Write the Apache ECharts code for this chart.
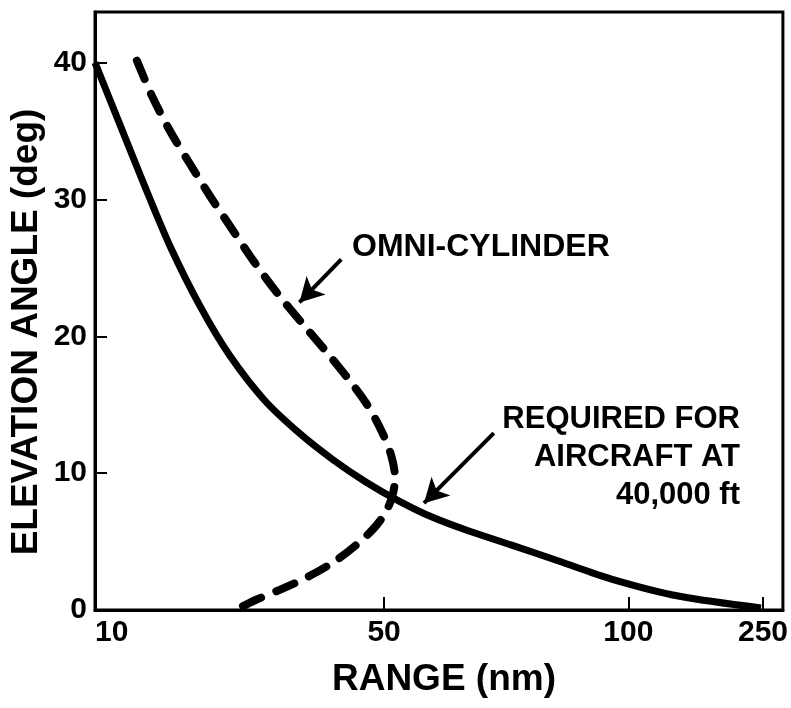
<!DOCTYPE html>
<html>
<head>
<meta charset="utf-8">
<script src="https://cdn.jsdelivr.net/npm/echarts@6/dist/echarts.min.js"></script>
<style>
html,body{margin:0;padding:0;background:#fff;}
#chart{width:791px;height:708px;}
</style>
</head>
<body>
<div id="chart"></div>
<script>
// ---- data (range in nm, elevation angle in deg) ----
const xTickValues = [10, 50, 100, 250];
const yTickValues = [0, 10, 20, 30, 40];

const requiredRange = [10, 13.45, 16.9, 20.34, 24.48, 28.62, 33.45, 38.28, 42.83, 47.52, 53.06, 59.8, 67.35, 76.12, 85.71, 96.53, 155.6, 247.8];
const requiredElev  = [40.0, 35.47, 30.95, 26.64, 22.26, 18.61, 15.33, 12.92, 11.02, 9.34, 7.96, 6.79, 5.77, 4.74, 3.58, 2.26, 1.02, 0.15];

const omniRange = [15.79, 17.86, 20.34, 23.1, 25.86, 28.9, 32.07, 35.24, 38.55, 41.72, 44.76, 47.52, 49.59, 51.43, 52.24, 51.63, 50.2, 48.62, 46.28, 43.24, 39.66, 35.79, 32.21, 30.0];
const omniElev  = [40.15, 37.59, 35.04, 32.63, 30.29, 27.88, 25.4, 23.14, 21.02, 19.05, 17.08, 15.11, 13.14, 11.31, 9.64, 8.25, 7.08, 5.99, 4.82, 3.58, 2.48, 1.53, 0.73, 0.15];

// ---- nonuniform range scale: axis units at each labelled range tick ----
const scaleBreaks = [0, 290, 535, 670];
const axisMax = 690;
const yMax = 43.7;

function toAxis(nm) {
  for (let i = 0; i < xTickValues.length - 1; i++) {
    const a = xTickValues[i], b = xTickValues[i + 1];
    if (nm <= b || i === xTickValues.length - 2) {
      return scaleBreaks[i] + (nm - a) * (scaleBreaks[i + 1] - scaleBreaks[i]) / (b - a);
    }
  }
}
function labelFor(u) {
  for (let i = 0; i < scaleBreaks.length; i++) {
    if (Math.abs(scaleBreaks[i] - u) < 0.5) return String(xTickValues[i]);
  }
  return '';
}

const requiredData = requiredRange.map((r, i) => [toAxis(r), requiredElev[i]]);
const omniData = omniRange.map((r, i) => [toAxis(r), omniElev[i]]);

const FONT = '"Liberation Sans", Arial, Helvetica, sans-serif';

const chart = echarts.init(document.getElementById('chart'), null, {renderer: 'canvas'});
chart.setOption({
  animation: false,
  backgroundColor: '#fff',
  grid: {
    left: 95, right: 6, top: 12, bottom: 98,
    show: true, borderColor: '#000', borderWidth: 3, backgroundColor: 'transparent'
  },
  xAxis: {
    type: 'value', min: 0, max: axisMax,
    name: 'RANGE (nm)', nameLocation: 'middle', nameGap: 51,
    nameTextStyle: {fontFamily: FONT, fontWeight: 'bold', fontSize: 37, color: '#000', padding: [0, 0, 0, 10]},
    axisLine: {show: true, lineStyle: {color: '#000', width: 3}},
    axisTick: {show: true, inside: true, length: 13, lineStyle: {color: '#000', width: 2},
      customValues: xTickValues.slice(1).map(toAxis)},
    axisLabel: {
      customValues: xTickValues.map(toAxis),
      formatter: labelFor,
      alignMinLabel: 'left',
      margin: 8,
      fontFamily: FONT, fontWeight: 'bold', fontSize: 30, color: '#000'
    },
    splitLine: {show: false}
  },
  yAxis: {
    type: 'value', min: 0, max: yMax,
    axisLine: {show: true, lineStyle: {color: '#000', width: 3}},
    axisTick: {show: true, inside: true, length: 12, lineStyle: {color: '#000', width: 2},
      customValues: yTickValues.slice(1)},
    axisLabel: {
      customValues: yTickValues,
      margin: 8,
      fontFamily: FONT, fontWeight: 'bold', fontSize: 30, color: '#000'
    },
    splitLine: {show: false}
  },
  graphic: [
    {type: 'text', x: 27, y: 332, rotation: Math.PI / 2,
      style: {text: 'ELEVATION ANGLE (deg)', fontFamily: FONT, fontWeight: 'bold', fontSize: 37,
        fill: '#000', align: 'center', verticalAlign: 'middle'}},
    {type: 'text', x: 352, y: 247,
      style: {text: 'OMNI-CYLINDER', fontFamily: FONT, fontWeight: 'bold', fontSize: 32,
        fill: '#000', align: 'left', verticalAlign: 'middle'}},
    {type: 'text', x: 740, y: 400,
      style: {text: 'REQUIRED FOR\nAIRCRAFT AT\n40,000 ft', fontFamily: FONT, fontWeight: 'bold', fontSize: 31,
        lineHeight: 38, fill: '#000', align: 'right', verticalAlign: 'top'}}
  ],
  series: [
    {
      name: 'Required for aircraft at 40,000 ft',
      type: 'line', data: requiredData, smooth: 0.3, showSymbol: false, symbol: 'none',
      lineStyle: {color: '#000', width: 7, cap: 'butt', join: 'round'},
      markLine: {
        silent: true, symbol: ['none', 'arrow'], symbolSize: [20, 24],
        lineStyle: {color: '#000', width: 4, type: 'solid'},
        label: {show: false},
        data: [[{coord: [toAxis(72.45), 12.92]}, {coord: [toAxis(58.16), 7.81]}]]
      },
      z: 3
    },
    {
      name: 'Omni-cylinder',
      type: 'line', data: omniData, smooth: 0.3, showSymbol: false, symbol: 'none',
      lineStyle: {color: '#000', width: 8, type: [20, 16], cap: 'round', join: 'round'},
      markLine: {
        silent: true, symbol: ['none', 'arrow'], symbolSize: [20, 24],
        lineStyle: {color: '#000', width: 4, type: 'solid'},
        label: {show: false},
        data: [[{coord: [toAxis(44.07), 25.62]}, {coord: [toAxis(38.28), 22.48]}]]
      },
      z: 3
    }
  ]
});
</script>
</body>
</html>
